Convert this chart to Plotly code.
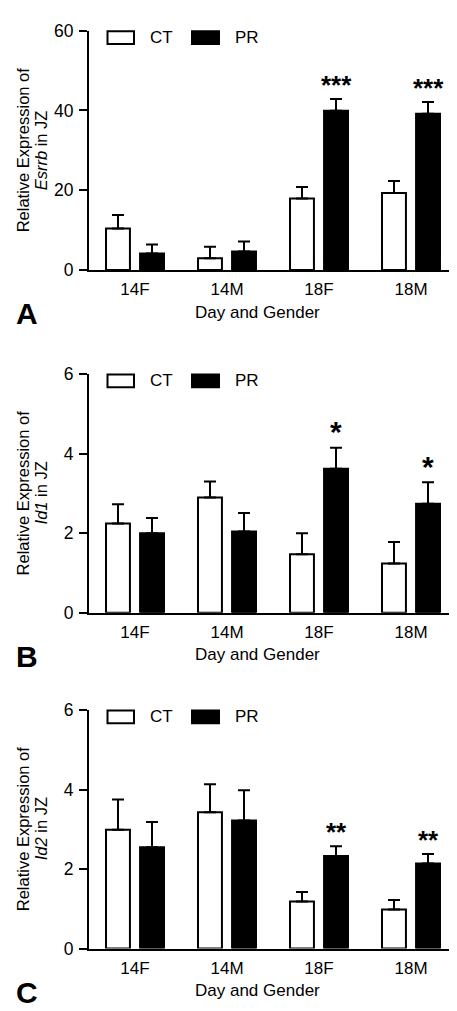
import plotly.graph_objects as go

W, H = 457, 1011

categories = ["14F", "14M", "18F", "18M"]

# Panel A: Esrrb
esrrb_ct = [10.4, 2.9, 17.9, 19.3]
esrrb_ct_err = [3.4, 2.9, 2.9, 3.0]
esrrb_pr = [4.1, 4.6, 39.9, 39.2]
esrrb_pr_err = [2.3, 2.5, 3.0, 2.9]
esrrb_sig = ["", "", "***", "***"]

# Panel B: Id1
id1_ct = [2.24, 2.90, 1.47, 1.24]
id1_ct_err = [0.49, 0.40, 0.53, 0.54]
id1_pr = [2.00, 2.04, 3.62, 2.74]
id1_pr_err = [0.38, 0.47, 0.53, 0.54]
id1_sig = ["", "", "*", "*"]

# Panel C: Id2
id2_ct = [2.99, 3.43, 1.18, 0.98]
id2_ct_err = [0.76, 0.70, 0.24, 0.24]
id2_pr = [2.55, 3.22, 2.33, 2.14]
id2_pr_err = [0.63, 0.76, 0.24, 0.24]
id2_sig = ["", "", "**", "**"]

y_ranges = [[0, 60], [0, 6], [0, 6]]
y_ticks = [[0, 20, 40, 60], [0, 2, 4, 6], [0, 2, 4, 6]]
genes = ["Esrrb", "Id1", "Id2"]
letters = ["A", "B", "C"]
legend_names = ["CT", "PR"]

FONT = "Liberation Sans, Arial, sans-serif"

panels = [
    (esrrb_ct, esrrb_ct_err, esrrb_pr, esrrb_pr_err, esrrb_sig),
    (id1_ct, id1_ct_err, id1_pr, id1_pr_err, id1_sig),
    (id2_ct, id2_ct_err, id2_pr, id2_pr_err, id2_sig),
]

# pixel geometry of plot areas (top, bottom)
px_top_bottom = [(13, 257), (363.3, 606.7), (706, 949.3)]
X0, X1 = 81, 449


def fx(px):
    return px / W


def fy(py):
    return 1 - py / H


fig = go.Figure()
annotations = []
shapes = []

bw = 0.26
off = 0.185

for i, (ct, cte, pr, pre, sig) in enumerate(panels):
    xa = "x" if i == 0 else f"x{i+1}"
    ya = "y" if i == 0 else f"y{i+1}"
    fig.add_trace(go.Bar(
        x=categories, y=ct, xaxis=xa, yaxis=ya, name=legend_names[0],
        width=bw, offset=-off - bw / 2,
        marker=dict(color="white", line=dict(color="black", width=2)),
        error_y=dict(type="data", array=cte, arrayminus=[0] * 4, symmetric=False,
                     color="black", thickness=2, width=6),
        showlegend=False,
    ))
    fig.add_trace(go.Bar(
        x=categories, y=pr, xaxis=xa, yaxis=ya, name=legend_names[1],
        width=bw, offset=off - bw / 2,
        marker=dict(color="black", line=dict(color="black", width=2)),
        error_y=dict(type="data", array=pre, arrayminus=[0] * 4, symmetric=False,
                     color="black", thickness=2, width=6),
        showlegend=False,
    ))
    top, bot = px_top_bottom[i]
    xkey = "xaxis" if i == 0 else f"xaxis{i+1}"
    ykey = "yaxis" if i == 0 else f"yaxis{i+1}"
    fig.update_layout(**{
        xkey: dict(domain=[fx(X0), fx(X1)], anchor=ya, range=[-0.5, 3.5],
                   type="category", showline=True, linecolor="black", linewidth=2,
                   ticks="", ticklen=0, showgrid=False, zeroline=False,
                   tickfont=dict(family=FONT, size=17, color="black"),
                   ticklabelstandoff=3),
        ykey: dict(domain=[fy(bot), fy(top)], anchor=xa, range=y_ranges[i],
                   tickvals=y_ticks[i], showline=True, linecolor="black", linewidth=2,
                   ticks="outside", ticklen=8, tickwidth=2, tickcolor="black",
                   showgrid=False, zeroline=False,
                   tickfont=dict(family=FONT, size=17.5, color="black"),
                   ticklabelstandoff=2),
    })
    # significance stars
    for j, s in enumerate(sig):
        if s:
            annotations.append(dict(
                x=categories[j], y=pr[j] + pre[j], xref=xa, yref=ya,
                xshift=off * (X1 - X0) / 4, yshift=14 if len(s) > 1 else 16,
                text=f"<b>{s}</b>", showarrow=False, yanchor="middle",
                font=dict(family=FONT, size=26 if len(s) > 1 else 30, color="black"),
            ))
    # y-axis titles
    cy = fy((top + bot) / 2)
    annotations.append(dict(x=fx(15), y=cy, xref="paper", yref="paper",
                            text="Relative Expression of", textangle=-90,
                            showarrow=False, xanchor="center", yanchor="middle",
                            font=dict(family=FONT, size=16.5, color="black")))
    annotations.append(dict(x=fx(33), y=cy, xref="paper", yref="paper",
                            text=f"<i>{genes[i]}</i> in JZ", textangle=-90,
                            showarrow=False, xanchor="center", yanchor="middle",
                            font=dict(family=FONT, size=16.5, color="black")))
    # x-axis title
    annotations.append(dict(x=fx(249.5), y=fy(bot + 43), xref="paper", yref="paper",
                            text="Day and Gender", showarrow=False,
                            xanchor="center", yanchor="middle",
                            font=dict(family=FONT, size=17, color="black")))
    # panel letter
    annotations.append(dict(x=fx(19), y=fy(bot + 44.5), xref="paper", yref="paper",
                            text=f"<b>{letters[i]}</b>", showarrow=False,
                            xanchor="center", yanchor="middle",
                            font=dict(family=FONT, size=30, color="black")))
    # legend keys
    ly0, ly1 = top + 0.5, top + 13.5
    shapes.append(dict(type="rect", xref="paper", yref="paper",
                       x0=fx(99.5), x1=fx(126), y0=fy(ly1), y1=fy(ly0),
                       fillcolor="white", line=dict(color="black", width=2)))
    shapes.append(dict(type="rect", xref="paper", yref="paper",
                       x0=fx(184), x1=fx(211), y0=fy(ly1), y1=fy(ly0),
                       fillcolor="black", line=dict(color="black", width=2)))
    annotations.append(dict(x=fx(140), y=fy(top + 7), xref="paper", yref="paper",
                            text=legend_names[0], showarrow=False,
                            xanchor="left", yanchor="middle",
                            font=dict(family=FONT, size=17, color="black")))
    annotations.append(dict(x=fx(225), y=fy(top + 7), xref="paper", yref="paper",
                            text=legend_names[1], showarrow=False,
                            xanchor="left", yanchor="middle",
                            font=dict(family=FONT, size=17, color="black")))

fig.update_layout(
    width=W, height=H, autosize=False,
    margin=dict(l=0, r=0, t=0, b=0),
    paper_bgcolor="white", plot_bgcolor="white",
    barmode="overlay",
    annotations=annotations, shapes=shapes,
    showlegend=False,
    font=dict(family=FONT, color="black"),
)

fig.write_html("out.html")
